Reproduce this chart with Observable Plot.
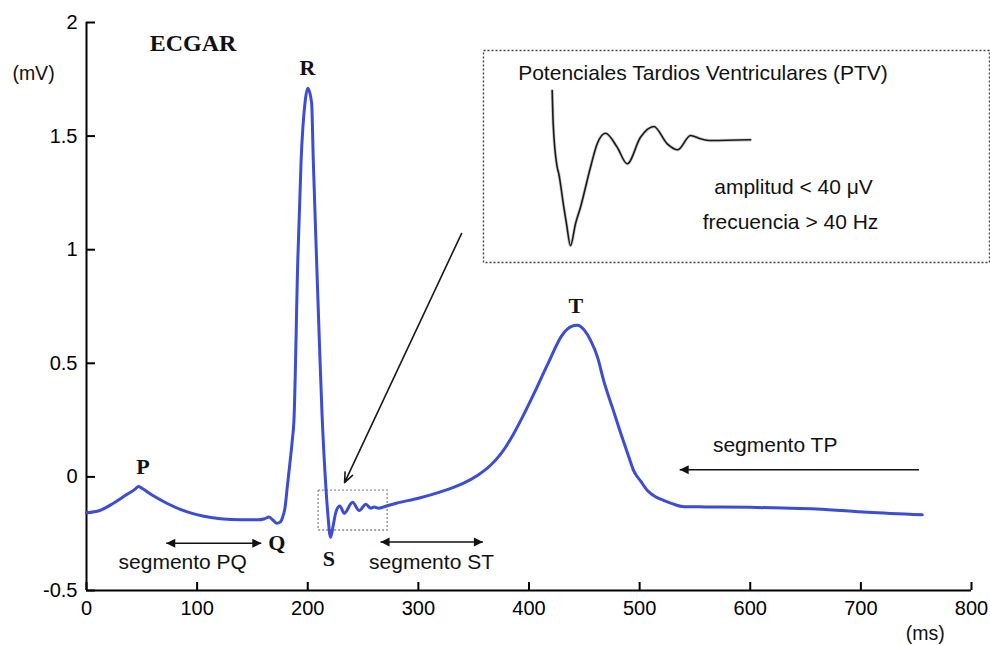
<!DOCTYPE html>
<html><head><meta charset="utf-8">
<script src="https://cdn.jsdelivr.net/npm/d3@7"></script>
<script src="https://cdn.jsdelivr.net/npm/@observablehq/plot@0.6"></script>
<style>
body{margin:0;background:#fff;}
#wrap{position:relative;width:990px;height:645px;overflow:hidden;}
#inset{position:absolute;left:482px;top:49px;}
</style></head><body><div id="wrap"><div id="main"></div><div id="inset"></div></div>
<script>
// ECG trace (time in ms, amplitude in mV)
const ecgTimeMs = [0,12,24,36,44,47,50,60,73,91,105,121,140,155,161,165,169,172,175,177.5,179.5,181.5,184,186,187.5,191,194,197.5,200,203.5,205,208,211,213,215.5,218,220.6,223,225.5,229,233,240.5,246.5,252.5,257,260,264,270,280,300,320,340,353,365,374,385,395,405,416.5,431,438,443.6,450,455.7,462,467.5,476,483,490,494.6,501,507,515,522,530,540,560,600,630,660,706,755.5];
const ecgMilliVolts = [-0.158,-0.148,-0.117,-0.079,-0.054,-0.042,-0.05,-0.082,-0.117,-0.154,-0.172,-0.184,-0.189,-0.189,-0.184,-0.177,-0.192,-0.204,-0.199,-0.174,-0.134,-0.044,0.066,0.16,0.246,0.953,1.394,1.646,1.711,1.646,1.394,0.953,0.526,0.266,0.026,-0.154,-0.266,-0.214,-0.154,-0.128,-0.16,-0.112,-0.148,-0.12,-0.138,-0.133,-0.138,-0.13,-0.116,-0.094,-0.066,-0.03,0.005,0.05,0.098,0.18,0.272,0.372,0.492,0.631,0.661,0.667,0.646,0.601,0.526,0.424,0.296,0.191,0.091,0.028,-0.019,-0.06,-0.089,-0.104,-0.119,-0.131,-0.132,-0.134,-0.137,-0.141,-0.156,-0.167];

// Axis ticks
const xTicks = [0,100,200,300,400,500,600,700,800];
const yTicks = [-0.5,0,0.5,1,1.5,2];

// Wave labels
const waveNames = ["P","Q","R","S","T"];
const waveX = [51.1,172.1,199.8,219.1,442.4];
const waveY = [0.014,-0.32,1.771,-0.394,0.72];

// Segment labels
const segNames = ["segmento PQ","segmento ST","segmento TP"];
const segLabelX = [87,311.9,622.5];
const segLabelY = [-0.4045,-0.4045,0.109];

// Segment arrows (start, end, level, heads)
const segStart = [72.1,265.8,536.2];
const segEnd = [158,358.3,752.5];
const segLevel = [-0.292,-0.287,0.031];
const segHeadStart = [true,true,true];
const segHeadEnd = [true,true,false];

// Pointer from the inset to the late potentials region
const pointerFrom = [339, 1.071];
const pointerTo = [233.3, -0.025];

// Zoomed window around the end of QRS
const zoomWindowMs = [209.8, 272.2];
const zoomWindowMv = [-0.06, -0.236];

// Inset: late ventricular potentials (arbitrary time / amplitude units)
const ptvTime = [0,0.5,2.5,3.3,5.8,7.15,9.15,11.65,14.15,19.15,22.5,26.65,32.5,37.5,44.15,50.8,57.5,62.8,69.15,74.15,79.15,99.15];
const ptvAmp = [19.7,6.4,-10.96,-13.6,-26.96,-33.6,-42.3,-33.6,-26.96,-10.96,-1.6,2.6,-3,-9.6,1,5.3,-1.6,-4,1.7,0.4,-0.3,0];
const insetTitle = "Potenciales Tardios Ventriculares (PTV)";
const insetNotes = ["amplitud < 40 μV","frecuencia > 40 Hz"];
const insetNoteX = [120.65,119.15];
const insetNoteY = [-21.6,-35.6];

// ---- build tables
const ecg = ecgTimeMs.map((t,i)=>({t, v: ecgMilliVolts[i]}));
const waves = waveNames.map((n,i)=>({n, x: waveX[i], y: waveY[i]}));
const segLabels = segNames.map((n,i)=>({n, x: segLabelX[i], y: segLabelY[i]}));
const segs = segStart.map((s,i)=>({x1: s, x2: segEnd[i], y: segLevel[i], hs: segHeadStart[i], he: segHeadEnd[i]}));
const headsLeft = segs.filter(d=>d.hs).map(d=>({x:d.x1, y:d.y}));
const headsRight = segs.filter(d=>d.he).map(d=>({x:d.x2, y:d.y}));
const leftTri = {draw(c){ c.moveTo(0,0); c.lineTo(9,-4.5); c.lineTo(9,4.5); c.closePath(); }};
const rightTri = {draw(c){ c.moveTo(0,0); c.lineTo(-9,-4.5); c.lineTo(-9,4.5); c.closePath(); }};

const sans = "'Liberation Sans', Arial, Helvetica, sans-serif";
const serif = "'Liberation Serif', 'Times New Roman', serif";

const main = Plot.plot({
  width: 990, height: 645,
  marginLeft: 86, marginRight: 19, marginTop: 22, marginBottom: 55,
  x: {domain: [0, 800], label: null},
  y: {domain: [-0.5, 2], label: null},
  style: {fontFamily: sans, fontSize: "20px", background: "white", color: "black", overflow: "visible"},
  marks: [
    Plot.axisX(xTicks, {tickSize: -8, tickPadding: 18, strokeWidth: 2, tickFormat: d => String(d), label: null}),
    Plot.axisY(yTicks, {tickSize: -9, tickPadding: 18, strokeWidth: 2, tickFormat: d => String(d), label: null}),
    Plot.ruleX([0], {strokeWidth: 2}),
    Plot.ruleY([-0.5], {strokeWidth: 2}),
    Plot.rect([0], {x1: () => zoomWindowMs[0], x2: () => zoomWindowMs[1], y1: () => zoomWindowMv[0], y2: () => zoomWindowMv[1],
      fill: "none", stroke: "#8a8a8a", strokeWidth: 1.3, strokeDasharray: "2,2"}),
    Plot.line(ecg, {x: "t", y: "v", stroke: "#3b4cd6", strokeWidth: 3, curve: "monotone-x"}),
    Plot.link(segs, {x1: "x1", x2: "x2", y1: "y", y2: "y", stroke: "#111", strokeWidth: 1.5}),
    Plot.dot(headsLeft, {x: "x", y: "y", symbol: leftTri, fill: "#111", stroke: "none", r: 4}),
    Plot.dot(headsRight, {x: "x", y: "y", symbol: rightTri, fill: "#111", stroke: "none", r: 4}),
    Plot.arrow([0], {x1: () => pointerFrom[0], y1: () => pointerFrom[1], x2: () => pointerTo[0], y2: () => pointerTo[1],
      stroke: "#1a1a1a", strokeWidth: 1.6, headLength: 10, headAngle: 45}),
    Plot.text(waves, {x: "x", y: "y", text: "n", fontFamily: serif, fontWeight: "bold", fontSize: 22, lineAnchor: "bottom", textAnchor: "middle", fill: "#111"}),
    Plot.text(segLabels, {x: "x", y: "y", text: "n", fontSize: 21, lineAnchor: "bottom", textAnchor: "middle", fill: "#111"}),
    Plot.text(["ECGAR"], {x: () => 96.3, y: () => 1.874, text: d => d, fontFamily: serif, fontWeight: "bold", fontSize: 24, lineAnchor: "bottom", textAnchor: "middle", fill: "#111"}),
    Plot.text(["(mV)"], {x: () => -47.9, y: () => 1.745, text: d => d, fontSize: 19.5, lineAnchor: "bottom", textAnchor: "middle", fill: "#111"}),
    Plot.text(["(ms)"], {x: () => 758.1, y: () => -0.716, text: d => d, fontSize: 19.5, lineAnchor: "bottom", textAnchor: "middle", fill: "#111"})
  ]
});
document.getElementById("main").appendChild(main);

const ptv = ptvTime.map((t,i)=>({t, a: ptvAmp[i]}));
const notes = insetNotes.map((n,i)=>({n, x: insetNoteX[i], y: insetNoteY[i]}));
const inset = Plot.plot({
  width: 508, height: 214, margin: 1,
  x: {domain: [0, 100], range: [69.7, 269.7], axis: null},
  y: {domain: [-50, 20], range: [215.3, 40.3], axis: null},
  style: {fontFamily: sans, fontSize: "20px", background: "transparent", color: "black", overflow: "visible"},
  marks: [
    Plot.frame({stroke: "#444", strokeWidth: 1.4, strokeDasharray: "2,2"}),
    Plot.line(ptv, {x: "t", y: "a", stroke: "#999", strokeWidth: 3.2, curve: "monotone-x", strokeOpacity: 0.5}),
    Plot.line(ptv, {x: "t", y: "a", stroke: "#1a1a1a", strokeWidth: 1.6, curve: "monotone-x"}),
    Plot.text([insetTitle], {x: () => 75.4, y: () => 24, text: d => d, fontSize: 21, lineAnchor: "bottom", textAnchor: "middle", fill: "#111"}),
    Plot.text(notes, {x: "x", y: "y", text: "n", fontSize: 21, lineAnchor: "bottom", textAnchor: "middle", fill: "#111"})
  ]
});
document.getElementById("inset").appendChild(inset);
</script></body></html>
